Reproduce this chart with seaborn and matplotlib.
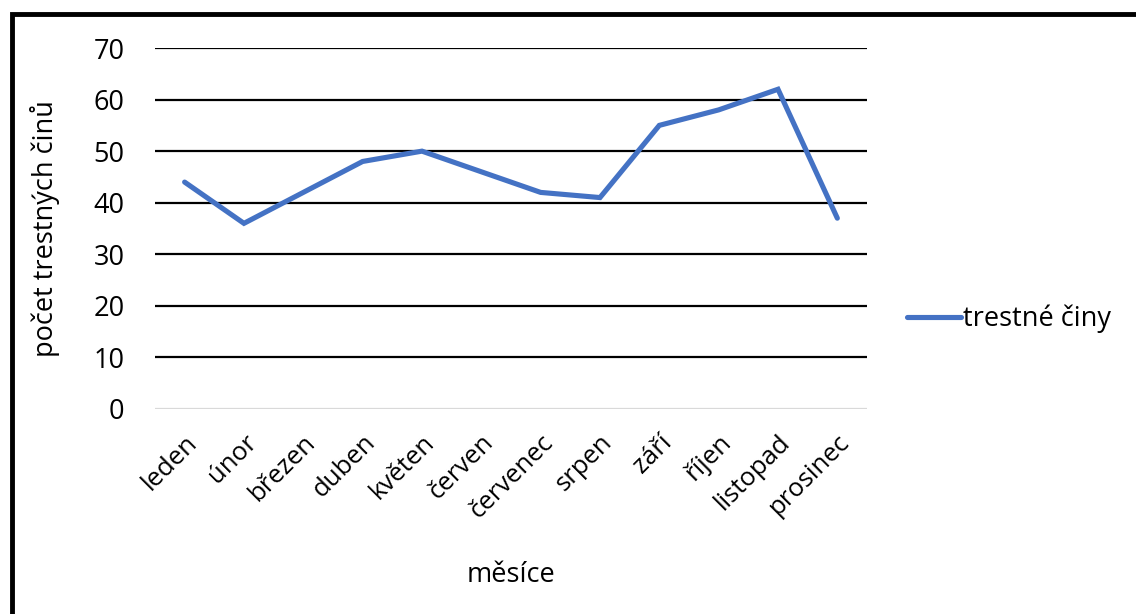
import pandas as pd
import matplotlib.pyplot as plt
import matplotlib.patches as mpatches
import seaborn as sns

# data
mesice = ['leden', 'únor', 'březen', 'duben', 'květen', 'červen',
          'červenec', 'srpen', 'září', 'říjen', 'listopad', 'prosinec']
trestne_ciny = [44, 36, 42, 48, 50, 46, 42, 41, 55, 58, 62, 37]
y_ticks = [0, 10, 20, 30, 40, 50, 60, 70]

sns.set_style("white")
plt.rcParams['font.family'] = ['Open Sans', 'DejaVu Sans']
plt.rcParams['text.color'] = 'black'
plt.rcParams['axes.labelcolor'] = 'black'
plt.rcParams['xtick.color'] = 'black'
plt.rcParams['ytick.color'] = 'black'

df = pd.DataFrame({'mesic': range(len(mesice)), 'pocet': trestne_ciny,
                   'serie': 'trestné činy'})

fig = plt.figure(figsize=(11.36, 6.14), dpi=100)
ax = fig.add_axes([0.1364, 0.3339, 0.7632 - 0.1364, 0.9218 - 0.3339])

sns.lineplot(data=df, x='mesic', y='pocet', hue='serie', palette=['#4472C4'],
             linewidth=3.7, ax=ax, solid_capstyle='round', solid_joinstyle='miter')

ax.set_xlim(-0.5, len(mesice) - 0.5)
ax.set_ylim(0, 70)
ax.set_yticks(y_ticks)
for t in y_ticks[1:]:
    ax.axhline(t, color='black', lw=1.6, zorder=0)
ax.axhline(0, color='#d9d9d9', lw=1.6, zorder=0)
for s in ax.spines.values():
    s.set_visible(False)

ax.set_xticks(range(len(mesice)))
ax.set_xticklabels(mesice, rotation=45, ha='right', rotation_mode='anchor')
ax.tick_params(axis='x', length=0, pad=15, labelsize=18.5)
ax.tick_params(axis='y', length=0, pad=22, labelsize=19.5)

ax.set_xlabel('měsíce', fontsize=19.5)
ax.set_ylabel('počet trestných činů', fontsize=19.5)
ax.xaxis.set_label_coords(0.5, -0.42)
ax.yaxis.set_label_coords(-0.134, 0.5)

ax.legend(loc='center left', bbox_to_anchor=(1.022, 0.25), frameon=False,
          fontsize=19.5, handlelength=2.0, handletextpad=0.05)

# black frame round the chart (cut on the right and bottom)
fig.patches.append(mpatches.Rectangle((0.011, -0.05), 1.1, 1.028, transform=fig.transFigure,
                                      fill=False, edgecolor='black', lw=3.5))

fig.savefig('out.png', dpi=100)
